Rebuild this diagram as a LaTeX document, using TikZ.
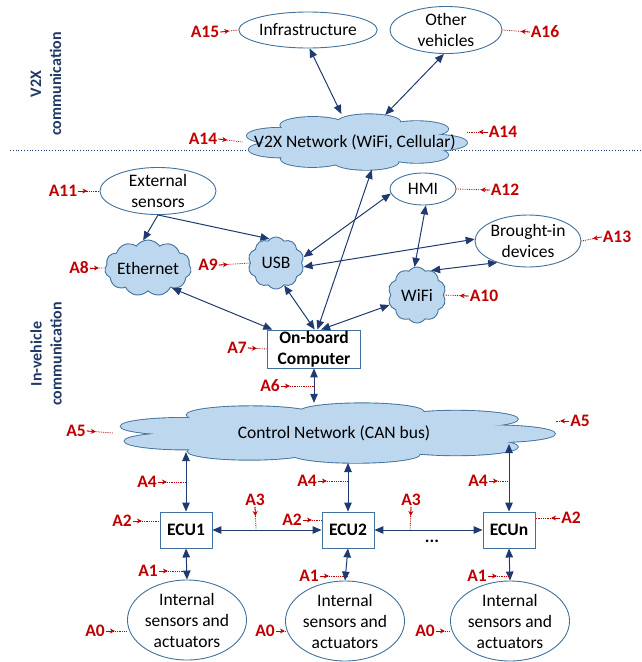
\documentclass[tikz,border=0pt]{standalone}
\usepackage{fontspec}
\setmainfont{Carlito}
\usetikzlibrary{shapes.geometric,shapes.symbols,arrows.meta,calc}

\definecolor{navyline}{HTML}{1F3A70}
\definecolor{edgeblue}{HTML}{41719C}
\definecolor{cloudfill}{HTML}{BDD7EE}
\definecolor{labred}{HTML}{C00000}
\definecolor{titleblue}{HTML}{1F3864}

\newcommand\txtsize{\fontsize{17.5}{21}\selectfont}
\newcommand\titlesize{\fontsize{16}{20}\selectfont}

% dotted red pointer from an attack label to its target, with a small tip near the label
\newcommand\alink[2]{%
  \draw[lablink] (#1) -- (#2);
  \draw[labtip] (#1) -- ($(#1)!9pt!(#2)$);}

% a stretched cloud body: puffs on a unit circle, scaled to half sizes #2 x #3 around coordinate #1
\newcommand\puffs{2/0.72/0.28, 40/0.72/0.28, 82/0.71/0.29, 122/0.72/0.28, 158/0.72/0.28,
                  198/0.72/0.28, 238/0.71/0.29, 280/0.72/0.28, 320/0.72/0.28}
\newcommand\cloudbody[3]{%
  \begin{scope}[shift={(#1)}, xscale=#2, yscale=#3]
    \foreach \ang/\rad/\pr in \puffs
      \draw[edgeblue, line width=1.8pt] (\ang:\rad) circle [radius=\pr];
    \draw[edgeblue, line width=1.8pt] (0,0) circle [radius=0.74];
    \foreach \ang/\rad/\pr in \puffs
      \fill[cloudfill] (\ang:\rad) circle [radius=\pr];
    \fill[cloudfill] (0,0) circle [radius=0.74];
  \end{scope}}

% text of a wide cloud, boxed with zero width so the node keeps its given size
\newcommand\cloudlabel[1]{\makebox[0pt]{#1}}

\tikzset{
  ell/.style={ellipse, draw=edgeblue, line width=0.9pt, fill=white, inner sep=0pt,
              align=center, font=\txtsize},
  cloudnode/.style={cloud, cloud puffs=#1, cloud puff arc=110, cloud ignores aspect,
              draw=edgeblue, line width=0.9pt, fill=cloudfill, inner sep=0pt,
              align=center, font=\txtsize},
  cloudnode/.default=10,
  cloudtext/.style={ellipse, inner sep=0pt, font=\txtsize},
  boxnode/.style={rectangle, draw=edgeblue, line width=0.9pt, fill=white, inner sep=0pt,
              align=center, font=\txtsize\bfseries},
  both/.style={draw=navyline, line width=1pt,
              {Triangle[length=9pt,width=7.5pt]}-{Triangle[length=9pt,width=7.5pt]}},
  oneway/.style={draw=navyline, line width=1pt, -{Triangle[length=9pt,width=7.5pt]}},
  alab/.style={text=labred, font=\txtsize\bfseries, inner sep=1pt},
  lablink/.style={draw=labred, line width=0.8pt, densely dotted},
  labtip/.style={draw=labred, line width=0.8pt, -{Stealth[length=5pt,width=5pt]}},
  sectitle/.style={text=titleblue, font=\titlesize\bfseries, align=center, rotate=90},
}

\begin{document}
\begin{tikzpicture}[x=1pt, y=-1pt]
  \useasboundingbox (0,0) rectangle (642,662);

  % section titles and separator
  \node[sectitle] (tv2x) at (46,84) {V2X\\communication};
  \node[sectitle] (tin) at (46,354) {In-vehicle\\communication};
  \draw[navyline, line width=0.8pt, dotted] (10,150) -- (642,150);

  % V2X part
  \node[ell, minimum width=120, minimum height=36] (infra) at (308,30) {Infrastructure};
  \node[ell, minimum width=112, minimum height=42] (other) at (446,30) {Other\\vehicles};
  \coordinate (v2xc) at (355,142);
  \cloudbody{v2xc}{112}{28}
  \node[cloudtext, minimum width=224, minimum height=56] (v2x) at (v2xc)
       {\cloudlabel{V2X Network (WiFi, Cellular)}};

  % in-vehicle peripherals
  \node[ell, minimum width=116, minimum height=42] (ext) at (158,191) {External\\sensors};
  \node[ell, minimum width=66, minimum height=32] (hmi) at (423,189) {HMI};
  \node[ell, minimum width=100, minimum height=52] (brought) at (528,241) {Brought-in\\devices};
  \node[cloudnode=11, minimum width=72, minimum height=56] (eth) at (148,268) {Ethernet};
  \node[cloudnode=10, minimum width=56, minimum height=52] (usb) at (276,263) {USB};
  \node[cloudnode=10, minimum width=58, minimum height=56] (wifi) at (417,295) {WiFi};
  \node[boxnode, minimum width=93, minimum height=38] (ob) at (314,349) {On-board\\Computer};

  % control network and ECUs
  \coordinate (ctrlc) at (334,433);
  \cloudbody{ctrlc}{221}{30}
  \node[cloudtext, minimum width=442, minimum height=60] (ctrl) at (ctrlc)
       {\cloudlabel{Control Network (CAN bus)}};
  \node[boxnode, minimum width=52, minimum height=36] (ecu1) at (186,530) {ECU1};
  \node[boxnode, minimum width=52, minimum height=36] (ecu2) at (348,530) {ECU2};
  \node[boxnode, minimum width=52, minimum height=36] (ecun) at (509,530) {ECUn};
  \node[font=\txtsize\bfseries] (dots) at (432,541) {...};
  \node[ell, minimum width=110, minimum height=80] (isa1) at (187,620) {Internal\\sensors and\\actuators};
  \node[ell, minimum width=110, minimum height=80] (isa2) at (345,621) {Internal\\sensors and\\actuators};
  \node[ell, minimum width=110, minimum height=80] (isan) at (510,621) {Internal\\sensors and\\actuators};

  % points where the ECU links meet the control network
  \coordinate (k1) at (186,452);
  \coordinate (k2) at (348,463);
  \coordinate (kn) at (509,444);

  % connectors
  \draw[both] (infra.-85) -- (v2x.116);
  \draw[both] (other.-95) -- (v2x.42);
  \draw[oneway] (ext.south) -- (eth.100);
  \draw[oneway] (ext.south) -- (usb.105);
  \draw[both] (hmi.188) -- (usb.12);
  \draw[both] (brought.178) -- (usb.-8);
  \draw[both] (hmi.-80) -- (wifi.95);
  \draw[both] (brought.215) -- (wifi.60);
  \draw[both] (eth.-40) -- (ob.155);
  \draw[both] (usb.-70) -- (ob.88);
  \draw[both] (wifi.200) -- (ob.70);
  \draw[both] (ob.80) -- (v2x.-59);
  \draw[both] (ob.south) -- (ob.south |- ctrl.north);
  \draw[both] (ecu1.north) -- (k1);
  \draw[both] (ecu2.north) -- (k2);
  \draw[both] (ecun.north) -- (kn);
  \draw[both] (ecu1.east) -- (ecu2.west);
  \draw[both] (ecu2.east) -- (ecun.west);
  \draw[both] (ecu1.south) -- (isa1.north);
  \draw[both] (ecu2.south) -- (isa2.north);
  \draw[both] (ecun.south) -- (isan.north);

  % attack point labels
  \node[alab] (a15) at (205,32) {A15};
  \node[alab] (a16) at (545,32) {A16};
  \node[alab] (a14l) at (203,139) {A14};
  \node[alab] (a14r) at (503,132) {A14};
  \node[alab] (a11) at (63,191) {A11};
  \node[alab] (a12) at (505,190) {A12};
  \node[alab] (a13) at (617,237) {A13};
  \node[alab] (a8) at (79,268) {A8};
  \node[alab] (a9) at (208,265) {A9};
  \node[alab] (a10) at (484,296) {A10};
  \node[alab] (a7) at (237,348) {A7};
  \node[alab] (a6) at (270,386) {A6};
  \node[alab] (a5l) at (76,431) {A5};
  \node[alab] (a5r) at (580,421) {A5};
  \node[alab] (a4a) at (147,482) {A4};
  \node[alab] (a4b) at (307,481) {A4};
  \node[alab] (a4c) at (478,481) {A4};
  \node[alab] (a3a) at (255,500) {A3};
  \node[alab] (a3b) at (411,500) {A3};
  \node[alab] (a2a) at (122,521) {A2};
  \node[alab] (a2b) at (292,520) {A2};
  \node[alab] (a2c) at (571,518) {A2};
  \node[alab] (a1a) at (148,571) {A1};
  \node[alab] (a1b) at (309,576) {A1};
  \node[alab] (a1c) at (477,576) {A1};
  \node[alab] (a0a) at (95,631) {A0};
  \node[alab] (a0b) at (265,631) {A0};
  \node[alab] (a0c) at (425,631) {A0};

  \coordinate (m12) at ($(ecu1.east)!0.4!(ecu2.west)$);
  \coordinate (m2n) at ($(ecu2.east)!0.33!(ecun.west)$);

  \alink{a15.east}{infra.west}
  \alink{a16.west}{other.east}
  \alink{a14l.east}{v2x.west}
  \alink{a14r.west}{v2x.east |- a14r}
  \alink{a11.east}{ext.west}
  \alink{a12.west}{hmi.east}
  \alink{a13.west}{brought.east}
  \alink{a8.east}{eth.west}
  \alink{a9.east}{usb.west}
  \alink{a10.west}{wifi.east}
  \alink{a7.east}{ob.west}
  \alink{a6.east}{ob.south |- a6}
  \alink{a5l.east}{ctrl.west}
  \alink{a5r.west}{ctrl.east |- a5r}
  \alink{a4a.east}{ecu1.north |- a4a}
  \alink{a4b.east}{ecu2.north |- a4b}
  \alink{a4c.east}{ecun.north |- a4c}
  \alink{a3a.south}{m12}
  \alink{a3b.south}{m2n}
  \alink{a2a.east}{ecu1.west |- a2a}
  \alink{a2b.east}{ecu2.west |- a2b}
  \alink{a2c.west}{ecun.east |- a2c}
  \alink{a1a.east}{ecu1.south |- a1a}
  \alink{a1b.east}{ecu2.south |- a1b}
  \alink{a1c.east}{ecun.south |- a1c}
  \alink{a0a.east}{isa1.west |- a0a}
  \alink{a0b.east}{isa2.west |- a0b}
  \alink{a0c.east}{isan.west |- a0c}
\end{tikzpicture}
\end{document}
